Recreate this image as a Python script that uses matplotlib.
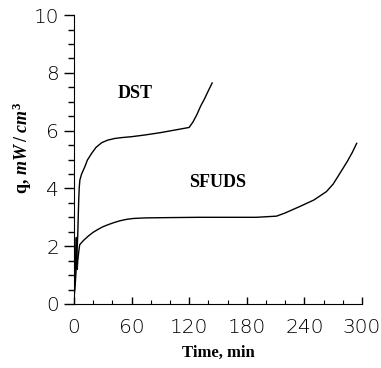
import numpy as np
import matplotlib
matplotlib.use("Agg")
import matplotlib.pyplot as plt
from matplotlib.ticker import MultipleLocator

plt.rcParams['mathtext.fontset'] = 'custom'
plt.rcParams['mathtext.it'] = 'Liberation Serif:italic:bold'
plt.rcParams['mathtext.rm'] = 'Liberation Serif:bold'

# DST curve (time in min, q in mW/cm^3)
dst_t = [0, 1, 2, 3, 4, 4.5, 5, 5.5, 6.2, 8, 11.4, 14, 18.4, 23, 28.8, 35, 42.7, 50, 60, 74,
         90, 105, 120, 124, 128, 132, 136, 140, 144]
dst_q = [0.2, 0.5, 1.0, 1.6, 2.4, 3.0, 3.6, 4.0, 4.29, 4.5, 4.75, 4.98, 5.21, 5.42, 5.58, 5.67,
         5.73, 5.76, 5.79, 5.85, 5.93, 6.02, 6.11, 6.3, 6.55, 6.85, 7.1, 7.38, 7.65]

# SFUDS curve
sfuds_t = [0, 1, 2, 2.5, 3, 3.5, 4, 5, 6, 10, 15, 20, 25, 30, 36, 42, 48, 55, 62, 75, 100,
           130, 160, 190, 211, 220, 235, 250, 263, 270, 277, 285, 290, 294.5]
sfuds_q = [0.2, 0.8, 1.8, 2.3, 1.5, 1.2, 1.5, 1.8, 2.05, 2.2, 2.35, 2.48, 2.58, 2.67, 2.75,
           2.82, 2.88, 2.93, 2.96, 2.98, 2.99, 3.0, 3.0, 3.0, 3.04, 3.15, 3.37, 3.6, 3.89, 4.15,
           4.52, 4.95, 5.25, 5.56]

xticks = [0, 60, 120, 180, 240, 300]
yticks = [0, 2, 4, 6, 8, 10]

fig = plt.figure(figsize=(3.81, 3.68), dpi=100)
ax = fig.add_axes([0.194, 0.174, 0.756, 0.785])

ax.plot(dst_t, dst_q, color='black', lw=1.0)
ax.plot(sfuds_t, sfuds_q, color='black', lw=1.0)

ax.text(63.5, 7.28, 'DST', family='Liberation Serif', weight='bold', fontsize=13,
        ha='center', va='center')
ax.text(149.5, 4.2, 'SFUDS', family='Liberation Serif', weight='bold', fontsize=13,
        ha='center', va='center')

ax.set_xlim(0, 300)
ax.set_ylim(0, 10)
ax.set_xticks(xticks)
ax.set_yticks(yticks)
ax.xaxis.set_minor_locator(MultipleLocator(20))
ax.yaxis.set_minor_locator(MultipleLocator(0.5))
ax.spines['top'].set_visible(False)
ax.spines['right'].set_visible(False)
ax.tick_params(axis='y', which='major', direction='out', length=7, width=1)
ax.tick_params(axis='y', which='minor', direction='out', length=4, width=1)
ax.tick_params(axis='x', which='major', direction='in', length=5, width=1, pad=10)
ax.tick_params(axis='x', which='minor', direction='in', length=3, width=0.8)
for lab in ax.get_xticklabels() + ax.get_yticklabels():
    lab.set_family('DejaVu Sans')
    lab.set_fontsize(14.5)
    lab.set_fontweight('light')

ax.set_xlabel('Time, min', family='Liberation Serif', weight='bold', fontsize=12, labelpad=6)
ax.set_ylabel(r'q, $mW\;/\;cm^3$', family='Liberation Serif', weight='bold', fontsize=13)
ax.yaxis.set_label_coords(-0.14, 0.54)

fig.savefig('out.png', dpi=100)
